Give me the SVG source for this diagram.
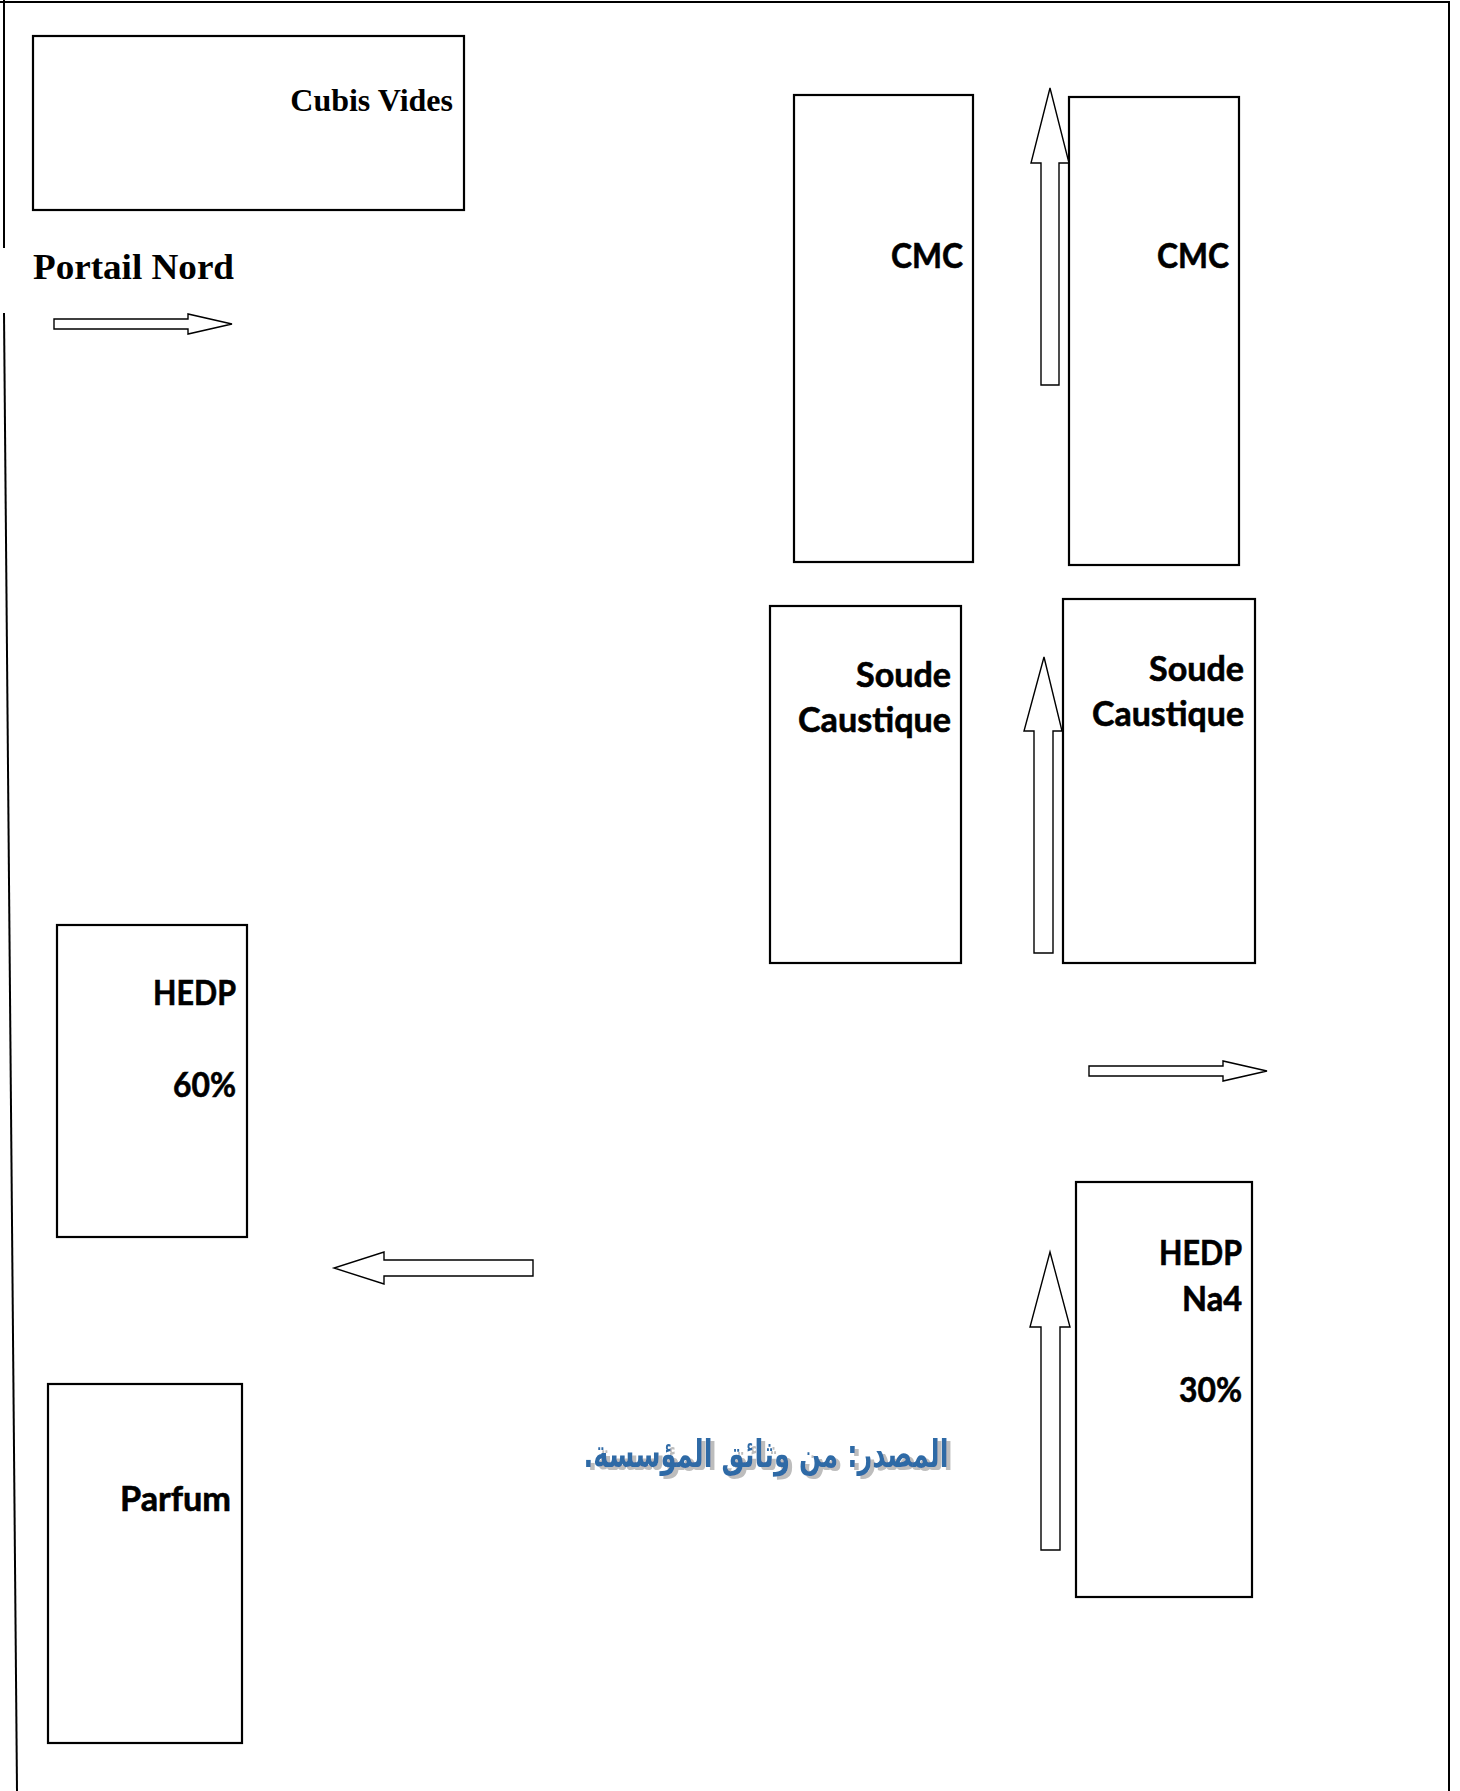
<svg xmlns="http://www.w3.org/2000/svg" width="1460" height="1791" viewBox="0 0 1460 1791">
<style>
.box{fill:#fff;stroke:#000;stroke-width:2.2}
.arr{fill:#fff;stroke:#000;stroke-width:1.4;stroke-linejoin:miter}
.border{fill:none;stroke:#000;stroke-width:2}
.t{font-family:Lato,"Open Sans","Noto Sans",sans-serif;font-weight:700;font-size:34px;fill:#000;stroke:#000;stroke-width:0.6;text-anchor:end}
.tr{font-family:"Liberation Serif","Times New Roman",serif;font-weight:700;fill:#000}
.ar{font-family:"DejaVu Sans",sans-serif;font-weight:700;font-size:38px;text-anchor:middle}
</style>
<defs>
<filter id="shadow" x="-5%" y="-30%" width="110%" height="160%">
<feFlood flood-color="#bdbdbd" result="c"/>
<feComposite in="c" in2="SourceAlpha" operator="in" result="s"/>
<feOffset in="s" dx="4" dy="3" result="o"/>
<feMerge><feMergeNode in="o"/><feMergeNode in="SourceGraphic"/></feMerge>
</filter>
</defs>
<rect width="1460" height="1791" fill="#fff"/>
<g id="frame">
<line class="border" x1="0" y1="2" x2="1450" y2="2"/>
<line class="border" x1="1449" y1="1" x2="1449" y2="1791"/>
<line class="border" x1="4" y1="0" x2="4" y2="248"/>
<line class="border" x1="4" y1="313" x2="17" y2="1791"/>
</g>
<g id="portail-nord">
<text class="tr" x="33" y="279" font-size="36" textLength="201" lengthAdjust="spacingAndGlyphs">Portail Nord</text>
</g>
<g id="cubis-vides">
<rect class="box" x="33" y="36" width="431" height="174"/>
<text class="tr" x="453" y="111" font-size="32" text-anchor="end">Cubis Vides</text>
</g>
<g id="cmc-1">
<rect class="box" x="794" y="95" width="179" height="467"/>
<text class="t" x="963" y="268" textLength="72" lengthAdjust="spacingAndGlyphs">CMC</text>
</g>
<g id="cmc-2">
<rect class="box" x="1069" y="97" width="170" height="468"/>
<text class="t" x="1229" y="268" textLength="72" lengthAdjust="spacingAndGlyphs">CMC</text>
</g>
<g id="soude-1">
<rect class="box" x="770" y="606" width="191" height="357"/>
<text class="t" x="951" y="687" textLength="95" lengthAdjust="spacingAndGlyphs">Soude</text>
<text class="t" x="951" y="732" textLength="153" lengthAdjust="spacingAndGlyphs">Caustique</text>
</g>
<g id="soude-2">
<rect class="box" x="1063" y="599" width="192" height="364"/>
<text class="t" x="1244" y="681" textLength="95" lengthAdjust="spacingAndGlyphs">Soude</text>
<text class="t" x="1244" y="726" textLength="152" lengthAdjust="spacingAndGlyphs">Caustique</text>
</g>
<g id="hedp-na4">
<rect class="box" x="1076" y="1182" width="176" height="415"/>
<text class="t" x="1242" y="1265" textLength="83" lengthAdjust="spacingAndGlyphs">HEDP</text>
<text class="t" x="1242" y="1311" textLength="60" lengthAdjust="spacingAndGlyphs">Na4</text>
<text class="t" x="1242" y="1402" textLength="63" lengthAdjust="spacingAndGlyphs">30%</text>
</g>
<g id="hedp-60">
<rect class="box" x="57" y="925" width="190" height="312"/>
<text class="t" x="236" y="1005" textLength="83" lengthAdjust="spacingAndGlyphs">HEDP</text>
<text class="t" x="236" y="1097" textLength="63" lengthAdjust="spacingAndGlyphs">60%</text>
</g>
<g id="parfum">
<rect class="box" x="48" y="1384" width="194" height="359"/>
<text class="t" x="231" y="1511" textLength="111" lengthAdjust="spacingAndGlyphs">Parfum</text>
</g>
<g id="source">
<text class="ar" x="766" y="1467" fill="#2f6aa6" direction="rtl" filter="url(#shadow)" textLength="365" lengthAdjust="spacingAndGlyphs">المصدر: من وثائق المؤسسة.</text>
</g>
<g id="connectors">
<polygon class="arr" points="54,319 188,319 188,314 232,324 188,334 188,329 54,329"/>
<polygon class="arr" points="1041,385 1041,163 1031,163 1050,88 1069,163 1059,163 1059,385"/>
<polygon class="arr" points="1034,953 1034,731 1024,731 1044,657 1062,731 1053,731 1053,953"/>
<polygon class="arr" points="1089,1066 1223,1066 1223,1061 1267,1071 1223,1081 1223,1076 1089,1076"/>
<polygon class="arr" points="533,1260 384,1260 384,1252 334,1268 384,1284 384,1276 533,1276"/>
<polygon class="arr" points="1041,1550 1041,1327 1030,1327 1050,1252 1070,1327 1060,1327 1060,1550"/>
</g>
</svg>
